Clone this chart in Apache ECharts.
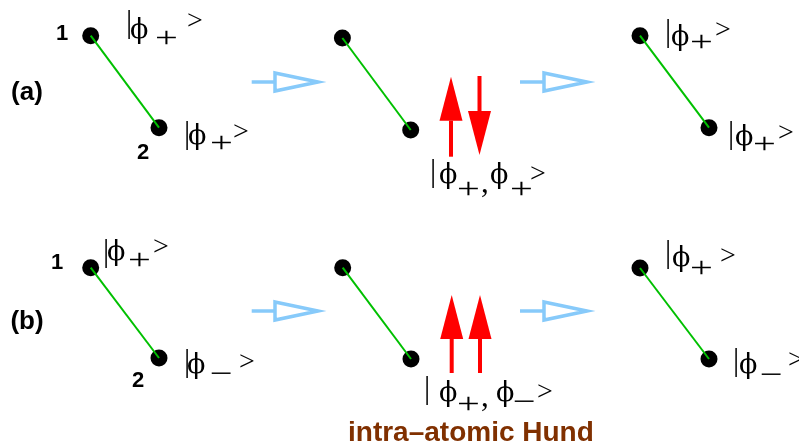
<!DOCTYPE html>
<html>
<head>
<meta charset="utf-8">
<script src="https://cdn.jsdelivr.net/npm/echarts@6/dist/echarts.min.js"></script>
<style>html,body{margin:0;padding:0;background:#fff}#c{width:799px;height:448px}</style>
</head>
<body>
<div id="c"></div>
<script>
// ---- data ----
const siteX = [90.7, 159, 342.4, 410.7, 640, 709, 90.7, 159, 342.7, 411, 640, 709];
const siteY = [35.7, 127.7, 38, 130, 35.7, 127.7, 267.7, 358, 267.7, 359, 268, 359];
const bondPairs = [[0,1],[2,3],[4,5],[6,7],[8,9],[10,11]];
const spinX = [451, 479.5, 451.7, 480];
const spinTail = [156.7, 76, 373, 373];
const spinTip = [76.7, 155, 295, 295];
const transStart = [251.7, 520, 251.7, 520];
const transTip = [318, 587, 318, 587];
const transY = [82, 82, 311, 311];
const siteNums = ['1', '2', '1', '2'];
const panelNames = ['(a)', '(b)'];
const noteText = 'intra\u2013atomic Hund';
const PHI = '\u03D5', MINUS = '\u2212';
const kets = [
  [['|',126,23.5],[PHI,130,31],['+',155,39],['>',187,21.5]],
  [['|',184,134.5],[PHI,188,136.5],['+',210,144],['>',233,133]],
  [['|',665,32.5],[PHI,671,37.5],['+',690,43],['>',715,31]],
  [['|',728,134.5],[PHI,735,137.5],['+',753,145],['>',778,134]],
  [['|',430,172.5],[PHI,439,175.5],['+',457,190],[',',481,184],[PHI,490,175.5],['+',510,190],['>',530,175]],
  [['|',103,253],[PHI,107,252.5],['+',128,261.5],['>',153,248]],
  [['|',184,362.5],[PHI,187,365.5],[MINUS,210,375],['>',239,363]],
  [['|',424,389.5],[PHI,439,393.5],['+',457,405],[',',481,398],[PHI,496,393.5],[MINUS,513,403],['>',537,393]],
  [['|',665,254],[PHI,672,258.5],['+',690,269.5],['>',720,256.5]],
  [['|',733,361.5],[PHI,739,365.5],[MINUS,760,375.7],['>',788,361]]
];

// ---- build ----
const sitesData = siteX.map((x, i) => [x, siteY[i]]);
const bondData = bondPairs.map(p => [siteX[p[0]], siteY[p[0]], siteX[p[1]], siteY[p[1]]]);
const spinData = spinX.map((x, i) => [x, spinTail[i], spinTip[i]]);
const transData = transStart.map((x, i) => [x, transTip[i], transY[i]]);

const graphics = [];
const serif = '"Liberation Serif", "DejaVu Serif", "Times New Roman", serif';
const phiFont = '"DejaVu Serif", "Liberation Serif", serif';
const sans = '"Liberation Sans", Arial, Helvetica, sans-serif';
const isSign = g => (g === '+' || g === MINUS);
const fontOf = g => {
  if (g === PHI) return '27px ' + phiFont;
  if (isSign(g)) return '30px ' + serif;
  if (g === '>') return '28px ' + serif;
  return '31px ' + serif;
};
kets.forEach(k => k.forEach(([g, x, y]) => {
  graphics.push({type:'text', x: x, y: y, silent:true, scaleX: isSign(g) ? 1.35 : 1,
    style:{text:g, font: fontOf(g), fill:'#000', textAlign:'left', textVerticalAlign:'middle'}});
}));
const numPos = [[62,34],[143,153],[57,263],[138,381]];
siteNums.forEach((t, i) => graphics.push({type:'text', x:numPos[i][0], y:numPos[i][1], silent:true,
  style:{text:t, font:'bold 22px ' + sans, fill:'#000', textAlign:'center', textVerticalAlign:'middle'}}));
const panelPos = [[27,93],[27,322]];
panelNames.forEach((t, i) => graphics.push({type:'text', x:panelPos[i][0], y:panelPos[i][1], silent:true,
  style:{text:t, font:'bold 26px ' + sans, fill:'#000', textAlign:'center', textVerticalAlign:'middle'}}));
graphics.push({type:'text', x:348, y:433, silent:true,
  style:{text:noteText, font:'bold 28px ' + sans, fill:'#803000', textAlign:'left', textVerticalAlign:'middle'}});

const chart = echarts.init(document.getElementById('c'), null, {renderer:'canvas'});
chart.setOption({
  animation:false,
  grid:{left:0, right:0, top:0, bottom:0},
  xAxis:{type:'value', min:0, max:799, show:false},
  yAxis:{type:'value', min:0, max:448, inverse:true, show:false},
  series:[
    {type:'scatter', data:sitesData, symbol:'circle', symbolSize:17, z:2,
     itemStyle:{color:'#000', opacity:1}, emphasis:{disabled:true}, silent:true},
    {type:'custom', data:bondData, z:3, silent:true,
     renderItem:(params, api) => {
       const a = api.coord([api.value(0), api.value(1)]);
       const b = api.coord([api.value(2), api.value(3)]);
       return {type:'line', shape:{x1:a[0], y1:a[1], x2:b[0], y2:b[1]}, style:{stroke:'#00c000', lineWidth:2}};
     }},
    {type:'custom', data:spinData, z:3, silent:true,
     renderItem:(params, api) => {
       const t = api.coord([api.value(0), api.value(1)]);
       const h = api.coord([api.value(0), api.value(2)]);
       const dir = h[1] < t[1] ? -1 : 1;
       const headLen = 44, headHalf = 11.5, shaft = 4;
       const baseY = h[1] - dir * headLen;
       return {type:'group', children:[
         {type:'rect', shape:{x:t[0]-shaft/2, y:Math.min(t[1], baseY), width:shaft, height:Math.abs(baseY - t[1])}, style:{fill:'#ff0000'}},
         {type:'polygon', shape:{points:[[h[0], h[1]], [h[0]-headHalf, baseY], [h[0]+headHalf, baseY]]}, style:{fill:'#ff0000'}}
       ]};
     }},
    {type:'custom', data:transData, z:3, silent:true,
     renderItem:(params, api) => {
       const s = api.coord([api.value(0), api.value(2)]);
       const e = api.coord([api.value(1), api.value(2)]);
       const headLen = 43, half = 9;
       const bx = e[0] - headLen;
       return {type:'group', children:[
         {type:'line', shape:{x1:s[0], y1:s[1], x2:bx, y2:s[1]}, style:{stroke:'#87cafa', lineWidth:3.5}},
         {type:'polygon', shape:{points:[[bx, s[1]-half], [e[0], s[1]], [bx, s[1]+half]]}, style:{fill:'#fff', stroke:'#87cafa', lineWidth:3.5, lineJoin:'miter'}}
       ]};
     }}
  ],
  graphic: graphics
});
</script>
</body>
</html>
